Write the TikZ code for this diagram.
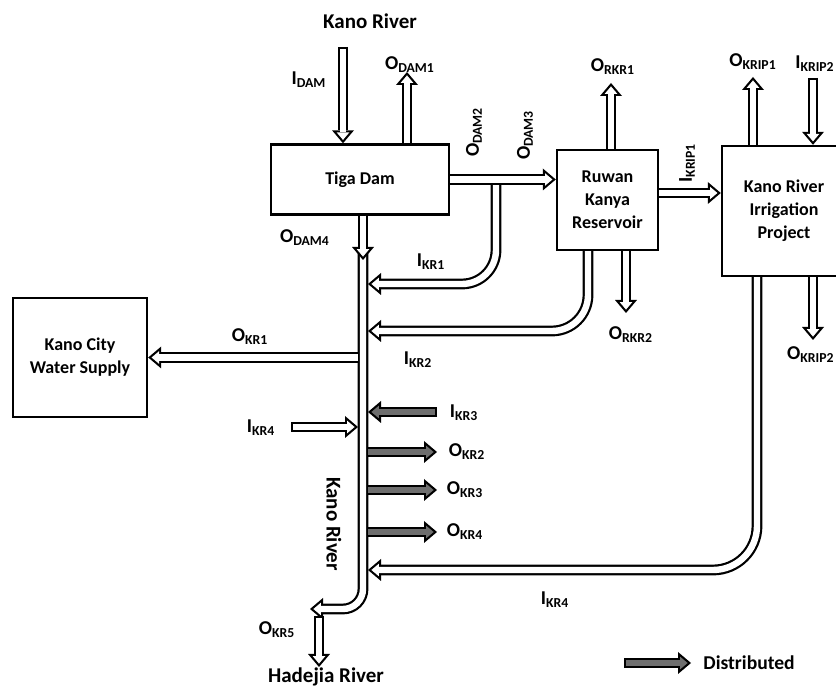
\documentclass[tikz,border=0pt]{standalone}
\usepackage{fontspec}
\setmainfont{Carlito}
\usepackage{tikz}
\usetikzlibrary{arrows.meta, positioning, calc}
\definecolor{DistGray}{RGB}{110,110,110}
\tikzset{
  box/.style={draw, line width=1.2pt, fill=white, align=center, inner sep=1pt, font=\fontsize{9}{11.5}\selectfont\bfseries},
  lbl/.style={inner sep=0pt, font=\fontsize{9.8}{11}\selectfont\bfseries},
  riverlbl/.style={inner sep=0pt, font=\fontsize{10.5}{12}\selectfont\bfseries},
  flow/.style={draw=white, line width=3.2pt, shorten >=1.7pt,
    -{Triangle[length=3.7pt, width=6.26pt, line width=0pt]},
    preaction={draw=black, line width=5.4pt, shorten <=0pt, shorten >=0pt,
      -{Triangle[length=6.5pt, width=11pt, line width=0pt]}}},
  distflow/.style={flow, draw=DistGray},
  capped/.style={shorten <=1.1pt},
}
\begin{document}
\begin{tikzpicture}[x=0.5pt, y=-0.5pt]
\useasboundingbox (0,0) rectangle (836,688);

\node[box, minimum width=89pt, minimum height=35pt] (dam) at (360,179.5) {Tiga Dam};
\node[box, minimum width=50.5pt, minimum height=50pt] (ruwan) at (607.5,200) {Ruwan\\Kanya\\Reservoir};
\node[box, minimum width=62pt, minimum height=65pt] (krip) at (784,211) {Kano River\\Irrigation\\Project};
\node[box, minimum width=67pt, minimum height=59.5pt] (city) at (80,357.5) {Kano City\\Water Supply};

\coordinate (idam) at (343,47);
\coordinate (odam1) at (407,72);
\coordinate (kr1top) at (496,183);
\coordinate (bend1) at (496,284);
\coordinate (bend2) at (588,331);
\coordinate (bend4) at (757,570);
\coordinate (krip1) at (690,193);
\coordinate (orkr1) at (611,83);
\coordinate (orkr2) at (626,313);
\coordinate (okrip1) at (753,77);
\coordinate (ikrip2) at (813,78);
\coordinate (okrip2) at (813,340);
\coordinate (rivtop) at (363,250);
\coordinate (rivbend) at (363,609);
\coordinate (rivend) at (310,609);
\coordinate (rivL) at (358,0);
\coordinate (rivR) at (368,0);
\coordinate (odam4) at (363,260);
\coordinate (ikr4) at (291,427);
\coordinate (ikr3) at (437,412);
\coordinate (okr2) at (437,452);
\coordinate (okr3) at (437,490);
\coordinate (okr4) at (437,532);
\coordinate (okr5top) at (319,616);
\coordinate (okr5) at (319,667);
\coordinate (legA) at (624,663);
\coordinate (legB) at (691,663);

\draw[flow, rounded corners=17pt] (kr1top) -- (bend1) -- (bend1 -| rivR);
\draw[flow, rounded corners=18pt] (bend2 |- ruwan.south) -- (bend2) -- (bend2 -| rivR);
\draw[flow, rounded corners=22pt] (bend4 |- krip.south) -- (bend4) -- (bend4 -| rivR);
\draw[flow, rounded corners=10pt] (rivtop) -- (rivbend) -- (rivend);

\draw[flow, capped] (idam) -- (idam |- dam.north);
\draw[flow] (odam1 |- dam.north) -- (odam1);
\draw[flow] (dam.east) -- (dam.east -| ruwan.west);
\draw[flow] (odam4 |- dam.south) -- (odam4);
\draw[flow] (ruwan.east |- krip1) -- (krip.west |- krip1);
\draw[flow] (orkr1 |- ruwan.north) -- (orkr1);
\draw[flow] (orkr2 |- ruwan.south) -- (orkr2);
\draw[flow] (okrip1 |- krip.north) -- (okrip1);
\draw[flow, capped] (ikrip2) -- (ikrip2 |- krip.north);
\draw[flow] (okrip2 |- krip.south) -- (okrip2);
\draw[flow] (city.east -| rivL) -- (city.east);
\draw[flow, capped] (ikr4) -- (ikr4 -| rivL);
\draw[distflow, capped] (ikr3) -- (ikr3 -| rivR);
\draw[distflow] (okr2 -| rivR) -- (okr2);
\draw[distflow] (okr3 -| rivR) -- (okr3);
\draw[distflow] (okr4 -| rivR) -- (okr4);
\draw[flow, capped] (okr5top) -- (okr5);
\draw[distflow, capped] (legA) -- (legB);

\node[riverlbl] (kanotop) at (370,21) {Kano River};
\node[riverlbl] (hadejia) at (326,677) {Hadejia River};
\node[riverlbl, rotate=-90] (kanoriv) at (334,524) {Kano River};
\node[lbl, anchor=west] (legtxt) at (703,663) {Distributed};

\node[lbl] (lidam) at (309,80) {I\textsubscript{DAM}};
\node[lbl] (lodam1) at (410,65) {O\textsubscript{DAM1}};
\node[lbl, rotate=90] (lodam2) at (474,132) {O\textsubscript{DAM2}};
\node[lbl, rotate=90] (lodam3) at (525,135) {O\textsubscript{DAM3}};
\node[lbl] (lodam4) at (305,238) {O\textsubscript{DAM4}};
\node[lbl] (likr1) at (431,262) {I\textsubscript{KR1}};
\node[lbl] (likr2) at (418,360) {I\textsubscript{KR2}};
\node[lbl] (lorkr1) at (613,67) {O\textsubscript{RKR1}};
\node[lbl] (lorkr2) at (631,335) {O\textsubscript{RKR2}};
\node[lbl, rotate=90] (likrip1) at (687,163) {I\textsubscript{KRIP1}};
\node[lbl] (lokrip1) at (753,62) {O\textsubscript{KRIP1}};
\node[lbl] (likrip2) at (815,64) {I\textsubscript{KRIP2}};
\node[lbl, anchor=east] (lokrip2) at (835,355) {O\textsubscript{KRIP2}};
\node[lbl] (lokr1) at (250,337) {O\textsubscript{KR1}};
\node[lbl] (likr3) at (464,413) {I\textsubscript{KR3}};
\node[lbl] (likr4a) at (261,428) {I\textsubscript{KR4}};
\node[lbl] (lokr2) at (467,452) {O\textsubscript{KR2}};
\node[lbl] (lokr3) at (465,490) {O\textsubscript{KR3}};
\node[lbl] (lokr4) at (465,532) {O\textsubscript{KR4}};
\node[lbl] (likr4b) at (555,600) {I\textsubscript{KR4}};
\node[lbl] (lokr5) at (277,630) {O\textsubscript{KR5}};
\end{tikzpicture}
\end{document}
